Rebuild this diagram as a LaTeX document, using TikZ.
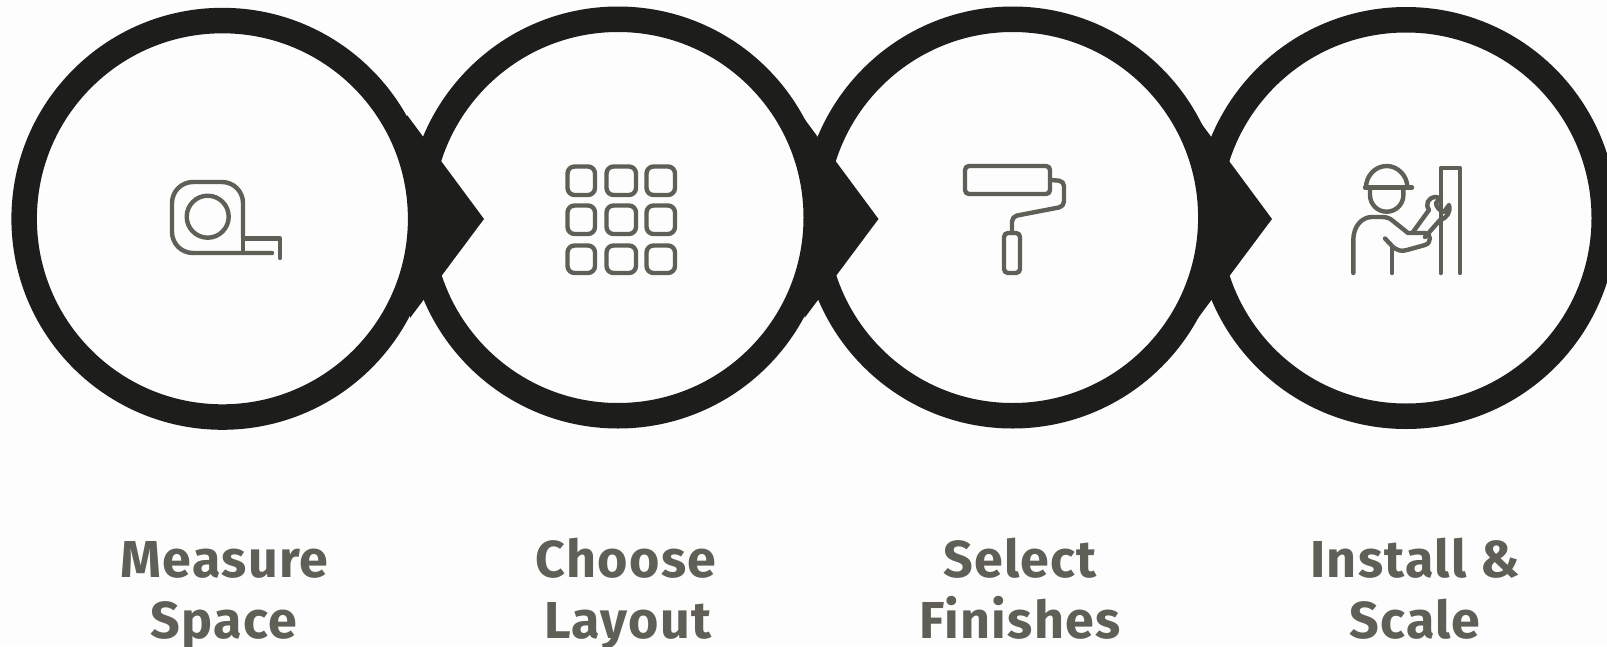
\documentclass[tikz,border=0pt]{standalone}
\usepackage{fontspec}
\setmainfont{Fira Sans}
\definecolor{ringc}{HTML}{1D1D1B}
\definecolor{inkc}{HTML}{5F5F57}
\definecolor{bgc}{HTML}{FDFDFD}
\begin{document}
\begin{tikzpicture}[x=1pt,y=-1pt,
  ring/.style={circle,draw=ringc,fill=bgc,line width=25.5pt,minimum size=396.5pt,inner sep=0pt},
  pointer/.style={fill=ringc,draw=none},
  icon/.style={draw=inkc,line width=4.4pt,line cap=round,line join=round,fill=none},
  caption/.style={text=inkc,font=\fontsize{52}{60}\selectfont\bfseries\addfontfeature{LetterSpace=2.5},inner sep=0pt,anchor=base}]
\useasboundingbox (0,0) rectangle (1607,646);
\fill[bgc] (0,0) rectangle (1607,646);
\clip (0,0) rectangle (1607,646);
% rings, right to left, each pointer over the next ring
\node[ring] (c4) at (1406,218) {};
\node[ring] (c3) at (1012.6,217.5) {};
\fill[pointer] (1195,115) -- (1272,219) -- (1198,318) -- (1203,218) -- cycle;
\node[ring] (c2) at (618,217.5) {};
\fill[pointer] (801.5,115) -- (878.5,219) -- (804.5,318) -- (809,218) -- cycle;
\node[ring] (c1) at (222.4,218.8) {};
\fill[pointer] (407,115) -- (484,219) -- (410,318) -- (414,218) -- cycle;
% tape measure
\draw[icon,rounded corners=21pt] (243,238) -- (243,182) -- (172,182) -- (172,253) -- (272,253);
\draw[icon] (207.7,216.7) circle (21);
\draw[icon] (243,253) -- (243,238.5) -- (280,238.5) -- (280,258);
% grid
\foreach \xa/\xb in {567.5/595,606.5/636,646.5/675}
  \foreach \ya/\yb in {166.5/195,205.5/234,245.5/273}
    \draw[icon,rounded corners=7pt] (\xa,\ya) rectangle (\xb,\yb);
% roller
\draw[icon,rounded corners=4pt] (965,166) rectangle (1050,194);
\draw[icon,rounded corners=5pt] (1050,180) -- (1064,181) -- (1064,206.5) -- (1012,216.5) -- (1012,233);
\draw[icon,rounded corners=4pt] (1004,233) -- (1020,233) -- (1020,273) -- (1004,273) -- cycle;
% worker
\draw[icon] (1366,187.5) .. controls (1366,176) and (1375,166) .. (1386.7,166) .. controls (1398,166) and (1407.4,176) .. (1407.4,187.5);
\draw[icon] (1365,187.5) -- (1412,187.5);
\draw[icon] (1370,190) -- (1370,195) .. controls (1370,204) and (1377,211.7) .. (1386.7,211.7) .. controls (1396,211.7) and (1403.4,204) .. (1403.4,195) -- (1403.4,190);
\draw[icon] (1353.3,273) -- (1353.3,240) .. controls (1353.3,226) and (1362,217) .. (1372,217) -- (1382,217) .. controls (1386,217) and (1390,218) .. (1393,221) -- (1408,233) -- (1425,233) .. controls (1431,233) and (1432,243) .. (1425,245) -- (1407,250) .. controls (1401,252) and (1397,250) .. (1393,247) -- (1385,238.5);
\draw[icon] (1392,248) -- (1392,273);
\draw[icon] (1413,232) -- (1429,210) .. controls (1425,204) and (1428,198) .. (1435,197) -- (1441,198) -- (1436,203) .. controls (1436,207) and (1440,211) .. (1444,212) -- (1449,205) .. controls (1451,212) and (1447,218) .. (1440,220) -- (1425,237);
\draw[icon] (1440.7,273) -- (1440.7,168) -- (1460,168) -- (1460,273);
% captions
\node[caption] (t1a) at (224.5,577) {Measure};
\node[caption] (t1b) at (224,638) {Space};
\node[caption] (t2a) at (626,577) {Choose};
\node[caption] (t2b) at (628,638) {Layout};
\node[caption] (t3a) at (1020,577) {Select};
\node[caption] (t3b) at (1020,638) {Finishes};
\node[caption] (t4a) at (1415,577) {Install \&};
\node[caption] (t4b) at (1415,638) {Scale};
\end{tikzpicture}
\end{document}
